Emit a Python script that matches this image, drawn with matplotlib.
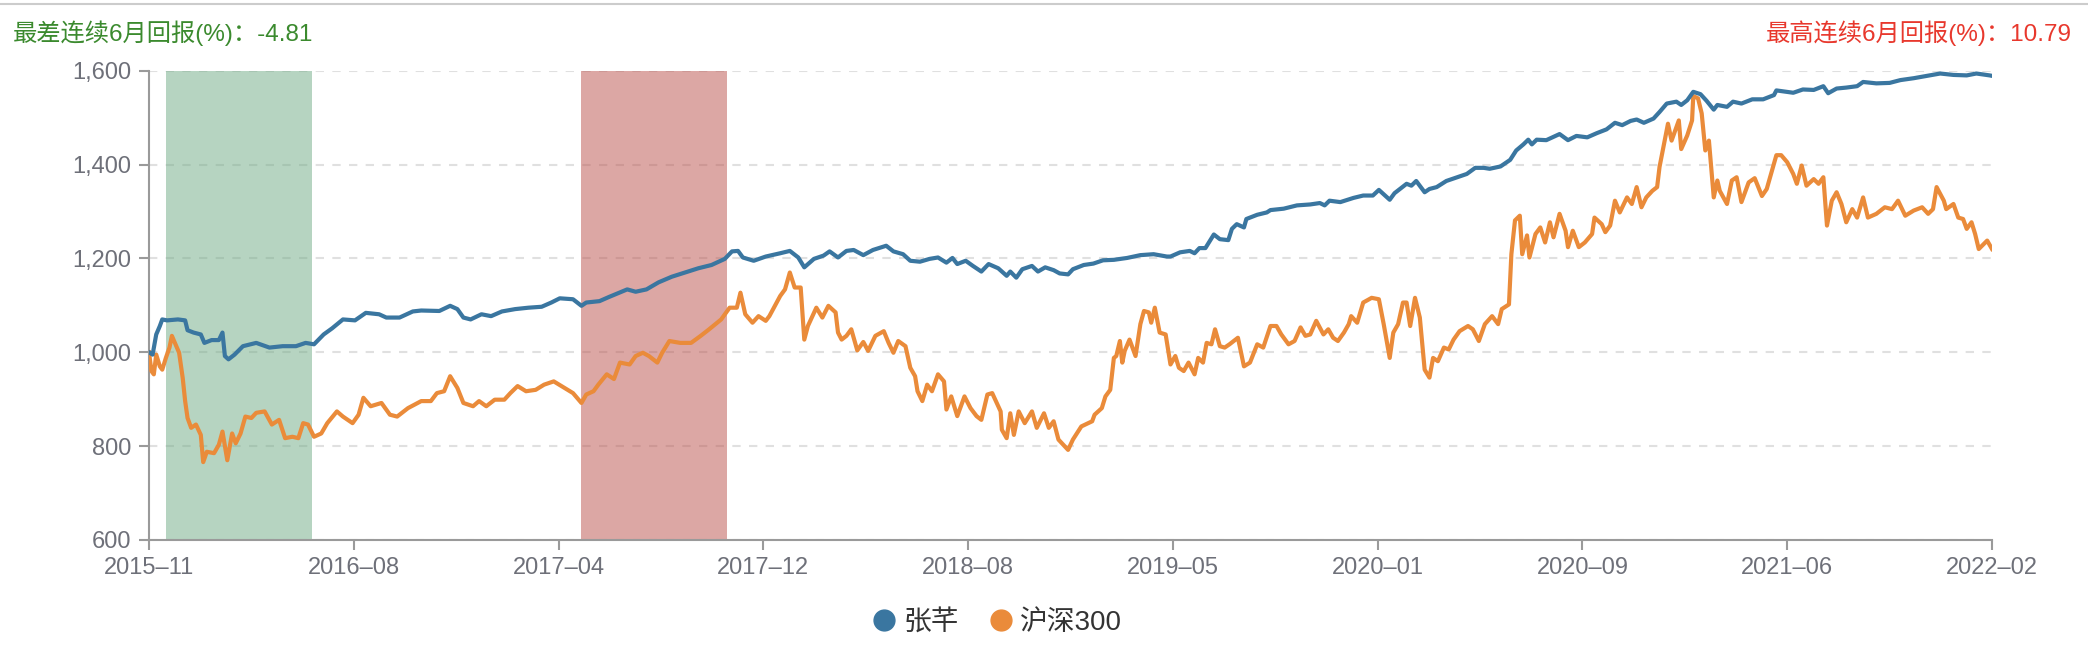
import matplotlib
matplotlib.use('Agg')
import matplotlib.pyplot as plt
from matplotlib.lines import Line2D

plt.rcParams['font.family'] = ['Liberation Sans', 'Noto Sans CJK SC', 'DejaVu Sans']

# 交易日序号 (0 = 2015-11, 1530 = 2022-02) 和净值
zf_day = [0, 3, 6, 9, 11, 15, 24, 30, 32, 37, 43, 46, 52, 58, 61, 63, 66, 71, 78, 89,
          100, 111, 122, 130, 137, 145, 152, 161, 171, 180, 191, 197, 208, 219, 226, 241,
          250, 256, 261, 267, 276, 284, 293, 304, 315, 326, 334, 341, 352, 359, 363, 374,
          382, 397, 404, 413, 423, 434, 445, 456, 467, 478, 484, 489, 493, 502, 512,
          524, 532, 539, 544, 552, 560, 565, 572, 579, 585, 593, 601, 612, 618, 626, 632,
          640, 648, 655, 662, 667, 671, 678, 684, 691, 697, 705, 712, 715, 720, 725, 733,
          738, 744, 751, 756, 763, 767, 776, 784, 792, 801, 812, 823, 834, 845,
          848, 856, 864, 868, 872, 877, 884, 889, 896, 899, 903, 909, 911, 920, 928, 931,
          942, 953, 964, 972, 976, 980, 989, 1000, 1008, 1016, 1021, 1030, 1034, 1044,
          1048, 1052, 1059, 1063, 1069, 1077, 1086, 1094, 1101, 1108, 1113, 1122, 1130,
          1135, 1141, 1145, 1148, 1152, 1160,
          1171, 1178, 1185, 1194, 1202, 1210, 1217, 1223, 1230, 1235, 1241, 1249, 1254,
          1260, 1268, 1272, 1277, 1282, 1288, 1293, 1299, 1302, 1310, 1315, 1322, 1331,
          1340, 1349, 1351, 1365, 1373, 1382, 1390, 1394, 1401, 1409, 1418, 1423, 1434,
          1445, 1454, 1465, 1476, 1487, 1498, 1509, 1517, 1528, 1530]
zf_val = [1000, 995, 1038, 1056, 1070, 1068, 1070, 1068, 1047, 1042, 1038, 1020, 1026, 1026, 1042, 992, 985, 995, 1013, 1020,
          1010, 1013, 1013, 1020, 1017, 1038, 1051, 1070, 1068, 1084, 1081, 1074, 1074, 1087, 1089, 1088,
          1099, 1092, 1074, 1070, 1081, 1077, 1087, 1092, 1095, 1097, 1106, 1115, 1113, 1099, 1106, 1109,
          1118, 1134, 1129, 1134, 1149, 1161, 1170, 1179, 1186, 1199, 1215, 1216, 1202, 1195, 1204,
          1211, 1216, 1202, 1181, 1199, 1206, 1215, 1202, 1216, 1218, 1207, 1218, 1227, 1215, 1209, 1195,
          1193, 1199, 1202, 1191, 1201, 1188, 1195, 1184, 1172, 1188, 1179, 1163, 1172, 1159, 1177, 1184,
          1172, 1181, 1175, 1168, 1166, 1177, 1186, 1189, 1196, 1197, 1201, 1207, 1209, 1204,
          1204, 1213, 1216, 1211, 1222, 1222, 1251, 1241, 1239, 1263, 1273, 1266, 1284, 1293, 1298, 1303,
          1306, 1313, 1315, 1318, 1313, 1323, 1320, 1329, 1334, 1334, 1346, 1325, 1339, 1359,
          1355, 1365, 1341, 1348, 1352, 1365, 1373, 1380, 1393, 1393, 1391, 1396, 1410,
          1430, 1443, 1453, 1443, 1453, 1452,
          1465, 1452, 1461, 1458, 1467, 1475, 1489, 1484, 1493, 1496, 1489, 1498, 1512,
          1530, 1534, 1527, 1537, 1555, 1550, 1536, 1517, 1527, 1523, 1534, 1530, 1539,
          1539, 1548, 1558, 1553, 1560, 1559, 1567, 1552, 1562, 1564, 1567, 1576, 1573,
          1574, 1580, 1584, 1589, 1594, 1591, 1590, 1594, 1590, 1589]

hs_day = [0, 2, 4, 6, 9, 11, 14, 17, 19, 22, 25, 28, 30, 32, 35, 39, 43, 45, 48, 54,
          58, 61, 65, 69, 72, 76, 80, 85, 89, 96, 102, 108, 113, 119, 124, 128, 132, 137,
          143, 148, 156, 161, 169, 174, 178, 184, 193, 200, 206, 215, 226, 234, 239, 245,
          250, 256, 261, 269, 274, 280, 287, 295, 300, 306, 313, 321, 328, 336, 345, 352,
          359, 363, 369, 373, 380, 386, 391, 399, 404, 410, 415, 422, 426, 432, 441, 450,
          458, 465, 475, 482, 488, 491, 495, 501, 506, 512, 515,
          524, 528, 532, 536, 541, 544, 547, 554, 559, 564, 570, 572, 575, 579, 583, 588,
          593, 597, 603, 610, 614, 618, 622, 628, 632, 636, 638, 642, 646, 650, 655, 660,
          662, 666, 671, 677, 682, 687, 691, 696, 700, 707, 708, 712, 715, 718, 722, 727,
          733, 737, 743, 747, 751, 755, 759, 763, 767, 774, 783, 785, 791, 794, 798, 801,
          803, 806, 808, 810, 814, 819, 823, 826, 830, 832, 835, 839, 844,
          848, 852, 855, 859, 863, 868, 871, 875, 878, 882, 885, 889, 893, 897, 902, 904,
          909, 914, 920, 925, 931, 936, 940, 946, 951, 956, 960, 964, 969, 975, 979, 983,
          987, 992, 996, 998, 1003, 1008, 1015, 1021, 1025, 1030, 1033, 1037, 1041, 1044,
          1047, 1051, 1055, 1059, 1063, 1066, 1070, 1075, 1079, 1083, 1088, 1095, 1099,
          1104, 1109, 1115, 1120, 1123, 1129, 1131, 1134, 1138, 1140, 1144, 1146, 1151,
          1155, 1159, 1163, 1166,
          1171, 1176, 1178, 1182, 1187, 1192, 1198, 1200, 1206, 1209, 1213, 1217, 1221,
          1227, 1231, 1235, 1239, 1243, 1248, 1252, 1254, 1258, 1261, 1264, 1270, 1272,
          1277, 1281, 1282, 1286, 1289, 1292, 1295, 1299, 1302, 1304, 1310, 1314, 1318,
          1322, 1328, 1333, 1339, 1343, 1347, 1351, 1355, 1360, 1365, 1368, 1372, 1376,
          1382, 1386, 1390, 1393, 1397, 1401, 1405, 1409, 1414, 1418, 1423, 1427, 1434,
          1441, 1447, 1452, 1458, 1465, 1472, 1477, 1481, 1484, 1490, 1492, 1498, 1502,
          1506, 1509, 1513, 1516, 1519, 1526, 1530]
hs_val = [1000, 960, 953, 995, 970, 963, 988, 1010, 1035, 1017, 999, 945, 896, 860, 839, 846, 824, 766, 788, 785,
          803, 831, 770, 827, 806, 827, 863, 860, 871, 874, 846, 856, 817, 820, 817, 849, 846, 820,
          827, 849, 874, 863, 849, 867, 903, 885, 892, 867, 863, 881, 896, 896, 913, 917,
          949, 924, 892, 885, 896, 885, 899, 899, 913, 928, 917, 920, 931, 938, 924, 913,
          892, 910, 917, 931, 953, 943, 978, 974, 992, 999, 992, 978, 999, 1024, 1020, 1020,
          1035, 1049, 1070, 1095, 1095, 1127, 1081, 1063, 1077, 1067, 1077,
          1120, 1134, 1170, 1138, 1138, 1027, 1056, 1095, 1074, 1099, 1085, 1042, 1027, 1035, 1049, 1004,
          1022, 1003, 1035, 1045, 1020, 999, 1024, 1013, 967, 949, 917, 896, 931, 917, 953, 938,
          878, 906, 864, 906, 881, 864, 856, 910, 913, 874, 835, 817, 870, 824, 874, 849,
          874, 839, 870, 839, 853, 814, 803, 792, 814, 842, 853, 867, 881, 906, 920, 988,
          992, 1024, 978, 1003, 1027, 992, 1060, 1088, 1085, 1063, 1095, 1042, 1038,
          974, 992, 967, 960, 978, 953, 988, 978, 1020, 1017, 1049, 1013, 1010, 1017, 1027, 1031,
          970, 978, 1017, 1010, 1056, 1056, 1038, 1017, 1024, 1053, 1035, 1038, 1067, 1038, 1049, 1031,
          1024, 1042, 1060, 1077, 1063, 1106, 1116, 1113, 1060, 988, 1042, 1060, 1106, 1106,
          1056, 1116, 1074, 963, 946, 988, 981, 1010, 1006, 1027, 1045, 1056, 1049,
          1024, 1060, 1077, 1060, 1092, 1102, 1209, 1281, 1291, 1209, 1249, 1202, 1252,
          1266, 1234, 1277, 1245,
          1295, 1259, 1224, 1259, 1224, 1234, 1252, 1287, 1273, 1256, 1270, 1323, 1298,
          1330, 1316, 1352, 1309, 1330, 1344, 1352, 1395, 1448, 1487, 1451, 1494, 1433,
          1462, 1494, 1546, 1541, 1509, 1430, 1451, 1330, 1366, 1344, 1316, 1366, 1373,
          1320, 1362, 1371, 1333, 1348, 1384, 1420, 1420, 1405, 1380, 1359, 1398, 1355,
          1369, 1359, 1373, 1270, 1323, 1341, 1316, 1277, 1305, 1287, 1330, 1287, 1295,
          1309, 1305, 1323, 1291, 1302, 1309, 1295, 1305, 1352, 1323, 1305, 1316, 1287,
          1284, 1263, 1277, 1252, 1220, 1238, 1220]

# 最差 / 最高连续6月区间 (交易日序号)
worst_window = [14, 135]
best_window = [359, 480]

x_ticks = [0, 170, 340, 510, 680, 850, 1020, 1190, 1360, 1530]
x_labels = ['2015–11', '2016–08', '2017–04', '2017–12', '2018–08',
            '2019–05', '2020–01', '2020–09', '2021–06', '2022–02']
y_ticks = [600, 800, 1000, 1200, 1400, 1600]
y_labels = ['600', '800', '1,000', '1,200', '1,400', '1,600']

fig = plt.figure(figsize=(20.88, 6.54), dpi=100)
ax = fig.add_axes([149 / 2088, 1 - 540 / 654, (1992 - 149) / 2088, (540 - 70.7) / 654])

ax.axvspan(worst_window[0], worst_window[1], color=(111/255, 171/255, 133/255), alpha=0.5, lw=0, zorder=2)
ax.axvspan(best_window[0], best_window[1], color=(187/255, 81/255, 75/255), alpha=0.5, lw=0, zorder=2)

ax.plot(zf_day, zf_val, color='#3a76a0', lw=3, zorder=4, solid_joinstyle='round')
ax.plot(hs_day, hs_val, color='#ea8b3a', lw=3, zorder=3, solid_joinstyle='round')

ax.set_xlim(0, 1530)
ax.set_ylim(600, 1600)
ax.set_xticks(x_ticks)
ax.set_xticklabels(x_labels)
ax.set_yticks(y_ticks)
ax.set_yticklabels(y_labels)

ax.yaxis.grid(True, color='#e0e0e0', ls=(0, (4, 4)), lw=1.5, zorder=1)
ax.set_axisbelow(True)
for s in ['top', 'right']:
    ax.spines[s].set_visible(False)
for s in ['left', 'bottom']:
    ax.spines[s].set_color('#9a9a9a')
    ax.spines[s].set_linewidth(1.5)
ax.tick_params(axis='both', colors='#9a9a9a', labelcolor='#6e7079', labelsize=17,
               length=7, width=1.5)
ax.tick_params(axis='y', pad=6)
ax.tick_params(axis='x', pad=5)

# 顶部标题
fig.text(13 / 2088, 1 - 33 / 654, '最差连续6月回报(%)：-4.81', color='#3b8a2e',
         fontsize=17.5, fontweight='medium', ha='left', va='center')
fig.text(2072 / 2088, 1 - 33 / 654, '最高连续6月回报(%)：10.79', color='#e8382d',
         fontsize=17.5, fontweight='medium', ha='right', va='center')
fig.add_artist(Line2D([0, 1], [1 - 4 / 654, 1 - 4 / 654], color='#cccccc', lw=1.5))

handles = [Line2D([], [], ls='', marker='o', ms=15, color='#3a76a0'),
           Line2D([], [], ls='', marker='o', ms=15, color='#ea8b3a')]
fig.legend(handles, ['张芊', '沪深300'], loc='center', bbox_to_anchor=(996 / 2088, 1 - 623 / 654),
           ncol=2, frameon=False, fontsize=20, handletextpad=0.2, columnspacing=1.0,
           handlelength=1.0, labelcolor='#333333')

fig.savefig('out.png', dpi=100)
